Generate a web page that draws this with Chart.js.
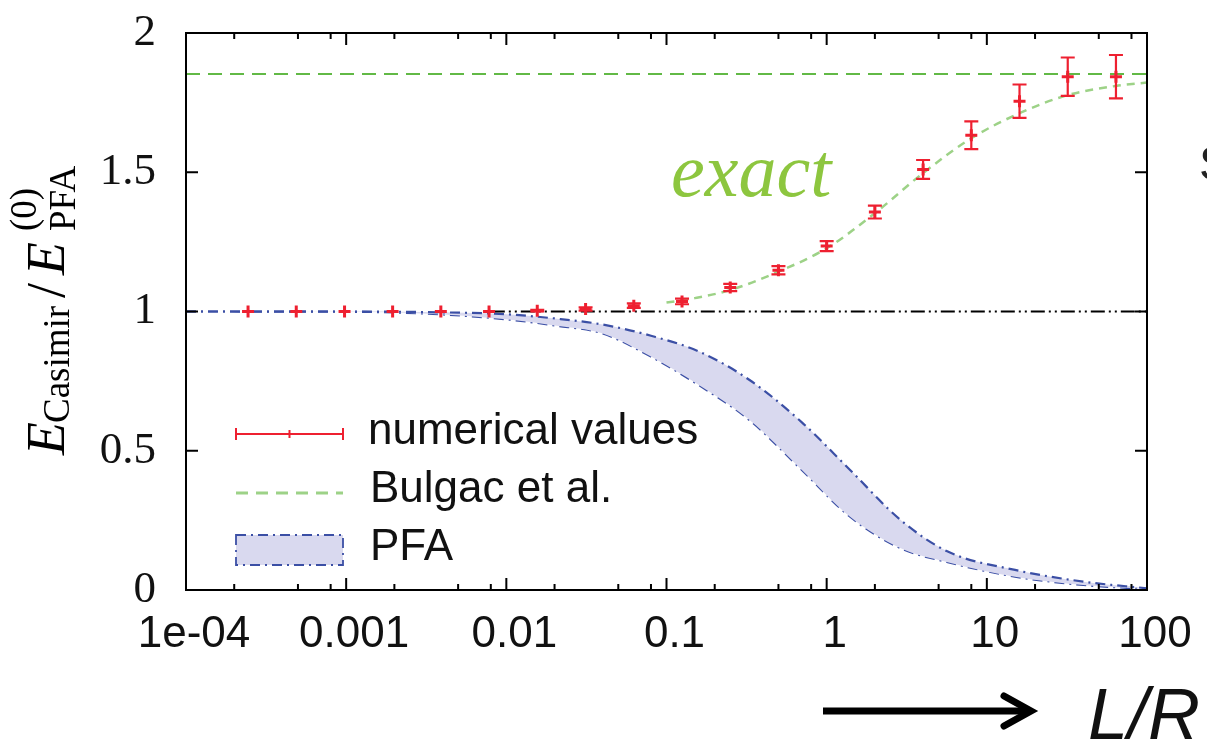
<!DOCTYPE html>
<html>
<head>
<meta charset="utf-8">
<script src="https://cdn.jsdelivr.net/npm/chart.js@4.4.1/dist/chart.umd.min.js"></script>
<style>
  html, body { margin: 0; padding: 0; background: #fff; }
  #wrap { width: 1207px; height: 744px; position: relative; }
</style>
</head>
<body>
<div id="wrap"><canvas id="chart"></canvas></div>
<script>
// numerical values, L/R = 2^-12 ... 2^6
const numX = [0.000244, 0.000488, 0.000977, 0.00195, 0.0039, 0.0078, 0.0156, 0.03125, 0.0625, 0.125, 0.25, 0.5, 1, 2, 4, 8, 16, 32, 64];
const numY = [1.0, 1.0, 1.0, 1.0, 1.0, 1.0, 1.003, 1.009, 1.021, 1.036, 1.086, 1.148, 1.235, 1.357, 1.51, 1.633, 1.755, 1.843, 1.843];
const numErr = [0, 0, 0, 0, 0, 0, 0.003, 0.006, 0.008, 0.01, 0.013, 0.015, 0.018, 0.023, 0.034, 0.05, 0.06, 0.069, 0.078];

// Bulgac et al. curve
const bulX = [0.1, 0.15, 0.25, 0.5, 1, 2, 4, 8, 16, 32, 64, 100];
const bulY = [1.032, 1.048, 1.077, 1.143, 1.227, 1.353, 1.497, 1.622, 1.712, 1.777, 1.81, 1.822];

// large-L limit (dashed green) and PFA leading order
const limitY = 1.853;
const pfa0X = [0.008, 100];

// PFA band
const pfaX = [1e-4, 1e-3, 0.003, 0.01, 0.02, 0.04, 0.08, 0.16, 0.33, 0.7, 1.4, 2.9, 5.7, 15, 40, 100];
const pfaUpper = [1, 1, 0.998, 0.99, 0.975, 0.953, 0.913, 0.856, 0.754, 0.602, 0.431, 0.251, 0.138, 0.072, 0.03, 0.006];
const pfaLower = [1, 0.999, 0.993, 0.972, 0.95, 0.921, 0.838, 0.735, 0.61, 0.431, 0.263, 0.15, 0.1, 0.048, 0.018, 0.004];

// ticks
const xMajor = [1e-4, 1e-3, 1e-2, 0.1, 1, 10, 100];
const xLabels = ['1e-04', '0.001', '0.01', '0.1', '1', '10', '100'];
const xMinorSteps = [2, 5, 8];
const yTicks = [0, 0.5, 1, 1.5, 2];

const RED = '#ee2030';
const GREEN = '#62b946';
const BULGAC = '#9dd287';
const BLUE = '#3b4fa5';
const FILL = '#d9d9ef';

const xTicks = [];
xMajor.forEach((m, i) => {
  xTicks.push(m);
  if (i < xMajor.length - 1) xMinorSteps.forEach(s => xTicks.push(m * s));
});

function isMajor(v) {
  return xMajor.some(m => Math.abs(v / m - 1) < 1e-6);
}
function xLabel(v) {
  const i = xMajor.findIndex(m => Math.abs(v / m - 1) < 1e-6);
  return i >= 0 ? xLabels[i] : '';
}
const pts = (xs, ys) => xs.map((v, i) => ({ x: v, y: ys[i] }));

function drawYTitle(ctx) {
  ctx.save();
  ctx.translate(64, 455);
  ctx.rotate(-Math.PI / 2);
  ctx.fillStyle = '#000';
  ctx.textAlign = 'left';
  ctx.textBaseline = 'alphabetic';
  ctx.font = 'italic 54px "Liberation Serif"';
  ctx.fillText('E', 0, 0);
  ctx.font = '37px "Liberation Serif"';
  ctx.fillText('Casimir', 32, 5);
  ctx.font = '54px "Liberation Serif"';
  ctx.fillText('/', 157, 0);
  ctx.font = 'italic 54px "Liberation Serif"';
  ctx.fillText('E', 180, 0);
  ctx.font = '37px "Liberation Serif"';
  ctx.fillText('(0)', 224, -28);
  ctx.fillText('PFA', 224, 11);
  ctx.restore();
}

const decor = {
  id: 'decor',
  afterDatasetsDraw(chart) {
    const { ctx, scales: { x, y } } = chart;
    ctx.save();
    ctx.strokeStyle = RED;
    ctx.lineWidth = 2.2;
    numX.forEach((v, i) => {
      if (!numErr[i]) return;
      const px = x.getPixelForValue(v);
      const y0 = y.getPixelForValue(numY[i] - numErr[i]);
      const y1 = y.getPixelForValue(numY[i] + numErr[i]);
      ctx.beginPath();
      ctx.moveTo(px, y0); ctx.lineTo(px, y1);
      ctx.moveTo(px - 7, y0); ctx.lineTo(px + 7, y0);
      ctx.moveTo(px - 7, y1); ctx.lineTo(px + 7, y1);
      ctx.stroke();
    });
    ctx.restore();
  },
  afterDraw(chart) {
    const { ctx, chartArea: a, scales: { x, y } } = chart;
    ctx.save();
    // frame and inward ticks
    ctx.strokeStyle = '#000';
    ctx.lineWidth = 2;
    ctx.strokeRect(a.left, a.top, a.right - a.left, a.bottom - a.top);
    ctx.beginPath();
    x.ticks.forEach(t => {
      const px = x.getPixelForValue(t.value);
      const len = isMajor(t.value) ? 12 : 6;
      ctx.moveTo(px, a.bottom); ctx.lineTo(px, a.bottom - len);
      ctx.moveTo(px, a.top); ctx.lineTo(px, a.top + len);
    });
    yTicks.forEach(v => {
      const py = y.getPixelForValue(v);
      ctx.moveTo(a.left, py); ctx.lineTo(a.left + 12, py);
      ctx.moveTo(a.right, py); ctx.lineTo(a.right - 12, py);
    });
    ctx.stroke();

    // legend
    const lx0 = a.left + 50, lx1 = a.left + 157;
    ctx.strokeStyle = RED;
    ctx.lineWidth = 2;
    ctx.beginPath();
    ctx.moveTo(lx0, 434); ctx.lineTo(lx1, 434);
    ctx.moveTo(lx0, 428); ctx.lineTo(lx0, 440);
    ctx.moveTo(lx1, 428); ctx.lineTo(lx1, 440);
    ctx.moveTo((lx0 + lx1) / 2, 430); ctx.lineTo((lx0 + lx1) / 2, 438);
    ctx.stroke();
    ctx.strokeStyle = BULGAC;
    ctx.lineWidth = 3;
    ctx.setLineDash([12, 8]);
    ctx.beginPath();
    ctx.moveTo(lx0, 493); ctx.lineTo(lx1, 493);
    ctx.stroke();
    ctx.fillStyle = FILL;
    ctx.fillRect(lx0, 535, lx1 - lx0, 30);
    ctx.strokeStyle = BLUE;
    ctx.lineWidth = 1.8;
    ctx.setLineDash([10, 5, 2, 5]);
    ctx.strokeRect(lx0, 535, lx1 - lx0, 30);
    ctx.setLineDash([]);

    ctx.fillStyle = '#111';
    ctx.font = '44px "Liberation Sans"';
    ctx.textAlign = 'left';
    ctx.textBaseline = 'alphabetic';
    ctx.fillText('numerical values', 368, 444);
    ctx.fillText('Bulgac et al.', 370, 502);
    ctx.fillText('PFA', 370, 560);

    // annotations
    ctx.fillStyle = '#8dc63f';
    ctx.font = 'italic 76px "Liberation Serif"';
    ctx.fillText('exact', 671, 196);

    ctx.fillStyle = '#222';
    ctx.font = '48px "Liberation Sans"';
    ctx.fillText('S', 1199, 180);

    ctx.strokeStyle = '#000';
    ctx.lineWidth = 7;
    ctx.beginPath();
    ctx.moveTo(823, 711); ctx.lineTo(1026, 711);
    ctx.stroke();
    ctx.lineCap = 'round';
    ctx.lineJoin = 'miter';
    ctx.beginPath();
    ctx.moveTo(1004, 696); ctx.lineTo(1031, 711); ctx.lineTo(1004, 726);
    ctx.stroke();
    ctx.fillStyle = '#111';
    ctx.font = 'italic 72px "Liberation Sans"';
    ctx.fillText('L/R', 1088, 739);

    drawYTitle(ctx);
    ctx.restore();
  }
};

const lineBase = { showLine: true, pointRadius: 0, fill: false };

new Chart(document.getElementById('chart'), {
  type: 'scatter',
  data: {
    datasets: [
      {
        label: 'numerical values',
        data: pts(numX, numY),
        showLine: false,
        pointStyle: 'cross',
        pointRadius: 6,
        pointBorderWidth: 3,
        borderColor: RED,
        backgroundColor: RED
      },
      {
        ...lineBase,
        label: 'Bulgac et al.',
        data: pts(bulX, bulY),
        borderColor: BULGAC,
        borderWidth: 2.5,
        borderDash: [8, 6],
        cubicInterpolationMode: 'monotone'
      },
      {
        ...lineBase,
        label: 'limit',
        data: [{ x: 1e-4, y: limitY }, { x: 100, y: limitY }],
        borderColor: GREEN,
        borderWidth: 2,
        borderDash: [14, 8]
      },
      {
        ...lineBase,
        label: 'PFA leading',
        data: pfa0X.map(v => ({ x: v, y: 1 })),
        borderColor: '#000',
        borderWidth: 2,
        borderDash: [14, 4, 2, 4, 2, 4]
      },
      {
        ...lineBase,
        label: 'PFA',
        data: pts(pfaX, pfaUpper),
        borderColor: BLUE,
        borderWidth: 2.2,
        borderDash: [10, 5, 2, 5],
        cubicInterpolationMode: 'monotone',
        fill: '+1',
        backgroundColor: FILL
      },
      {
        ...lineBase,
        label: 'PFA lower',
        data: pts(pfaX, pfaLower),
        borderColor: BLUE,
        borderWidth: 2.2,
        borderDash: [10, 5, 2, 5],
        cubicInterpolationMode: 'monotone'
      }
    ]
  },
  options: {
    responsive: true,
    maintainAspectRatio: false,
    devicePixelRatio: 1,
    animation: false,
    layout: { padding: { top: 33, right: 60, left: 0, bottom: 0 } },
    plugins: {
      legend: { display: false },
      tooltip: { enabled: false }
    },
    scales: {
      x: {
        type: 'logarithmic',
        min: 1e-4,
        max: 100,
        afterBuildTicks: s => { s.ticks = xTicks.map(v => ({ value: v })); },
        afterFit: s => { s.height = 154; s.paddingLeft = 0; s.paddingRight = 0; },
        grid: { display: false, drawTicks: false },
        border: { display: false },
        ticks: {
          autoSkip: false,
          maxRotation: 0,
          padding: 18,
          labelOffset: 8,
          color: '#111',
          font: { family: 'Liberation Sans', size: 44 },
          callback: v => xLabel(v)
        }
      },
      y: {
        min: 0,
        max: 2,
        afterBuildTicks: s => { s.ticks = yTicks.map(v => ({ value: v })); },
        afterFit: s => { s.width = 186; s.paddingTop = 0; s.paddingBottom = 0; },
        grid: { display: false, drawTicks: false },
        border: { display: false },
        ticks: {
          padding: 30,
          color: '#111',
          font: { family: 'Liberation Serif', size: 45 },
          callback: v => String(v)
        }
      }
    }
  },
  plugins: [decor]
});
</script>
</body>
</html>
